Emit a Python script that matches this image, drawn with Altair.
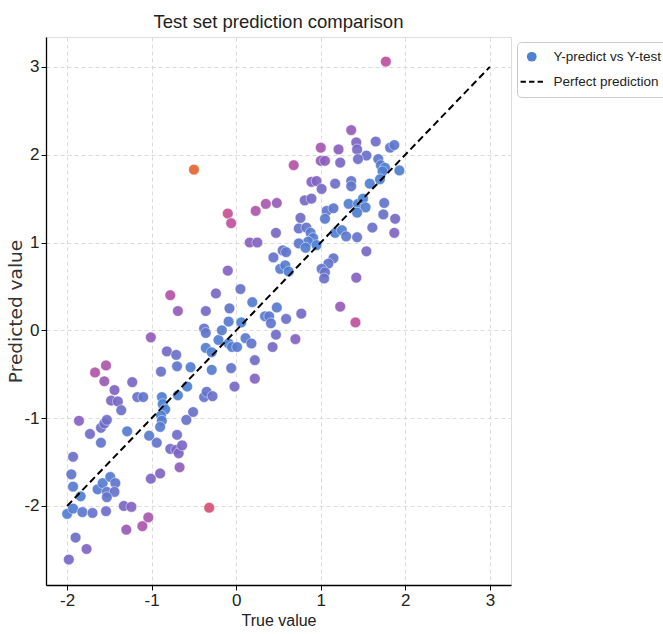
import altair as alt
import pandas as pd

# True values (x) and predicted values (y)
true_vals = [
    -1.98, -1.90, -1.77, -2.00, -1.93, -1.82, -1.70, -1.54, -1.84, -1.93,
    -1.95, -1.93, -1.64, -1.58, -1.53, -1.49, -1.43, -1.44, -1.53, -1.33,
    -1.24, -1.30, -1.11, -1.04, -1.01, -0.90, -1.86, -1.73, -1.60, -1.56,
    -1.53, -1.60, -1.29, -1.67, -1.54, -1.56, -1.44, -1.48, -1.40, -1.36,
    -1.23, -1.17, -1.10, -1.01, -1.03, -0.94, -0.78, -0.71, -0.68, -0.67,
    -0.70, -0.64, -0.32, -0.89, -0.88, -0.87, -0.84, -0.89, -0.88, -0.90,
    -0.82, -0.71, -0.70, -0.54, -0.58, -0.69, -0.38, -0.35, -0.28, -0.51,
    -0.59, -0.29, -0.06, -0.02, 0.22, 0.22, -0.36, -0.29, -0.21, -0.09,
    -0.05, 0.01, 0.11, 0.18, -0.38, -0.36, -0.17, -0.09, 0.06, -0.69,
    -0.78, -0.36, -0.24, -0.08, -0.10, 0.05, 0.19, 0.34, 0.39, 0.41,
    0.47, 0.43, 0.48, 0.59, 0.77, 0.70, 1.23, 1.41, -0.10, -0.06,
    -0.50, 0.23, 0.16, 0.25, 0.35, 0.48, 0.68, 0.47, 0.55, 0.59,
    0.44, 0.52, 0.58, 0.62, 0.74, 0.83, 0.88, 0.91, 0.85, 0.74,
    0.82, 0.95, 0.76, 0.81, 0.89, 0.89, 0.95, 1.01, 1.00, 1.00,
    1.05, 1.21, 1.23, 1.36, 1.42, 1.43, 1.54, 1.44, 1.65, 1.82,
    1.87, 1.68, 1.71, 1.76, 1.73, 1.93, 1.17, 1.36, 1.36, 1.58,
    1.70, 1.07, 1.15, 1.05, 1.33, 1.44, 1.50, 1.53, 1.43, 1.75,
    1.74, 1.88, 1.87, 1.61, 1.54, 1.43, 1.17, 1.25, 1.30, 1.15,
    1.09, 1.01, 1.05, 1.04, 1.42, 1.77,
]
pred_vals = [
    -2.61, -2.36, -2.49, -2.09, -2.03, -2.07, -2.08, -2.06, -1.89, -1.78,
    -1.64, -1.44, -1.81, -1.74, -1.84, -1.67, -1.74, -1.84, -1.90, -2.00,
    -2.01, -2.27, -2.23, -2.13, -1.69, -1.63, -1.03, -1.18, -1.11, -1.06,
    -1.02, -1.28, -1.15, -0.48, -0.40, -0.58, -0.68, -0.80, -0.81, -0.91,
    -0.59, -0.76, -0.76, -0.08, -1.20, -1.28, -1.35, -1.36, -1.40, -1.56,
    -1.19, -1.31, -2.02, -0.47, -0.76, -0.84, -0.90, -0.97, -1.03, -1.10,
    -0.24, -0.28, -0.41, -0.42, -0.64, -0.74, -0.76, -0.70, -0.75, -0.93,
    -1.02, -0.45, -0.43, -0.64, -0.34, -0.55, -0.20, -0.25, -0.11, -0.15,
    -0.19, -0.19, -0.09, -0.15, 0.02, -0.03, 0.00, 0.10, 0.09, 0.22,
    0.40, 0.22, 0.42, 0.25, 0.68, 0.47, 0.32, 0.16, 0.16, 0.08,
    -0.05, -0.19, 0.26, 0.13, 0.19, -0.10, 0.27, 0.09, 1.33, 1.22,
    1.83, 1.36, 1.00, 1.00, 1.44, 1.45, 1.88, 1.11, 0.91, 0.89,
    0.83, 0.70, 0.74, 0.67, 1.16, 1.17, 1.11, 1.05, 1.01, 0.99,
    0.94, 0.97, 1.28, 1.48, 1.50, 1.69, 1.70, 1.61, 2.08, 1.93,
    1.93, 2.06, 1.91, 2.28, 2.14, 2.06, 1.99, 1.95, 2.15, 2.08,
    2.11, 1.95, 1.88, 1.85, 1.81, 1.82, 1.67, 1.70, 1.64, 1.67,
    1.72, 1.36, 1.39, 1.27, 1.44, 1.44, 1.50, 1.40, 1.34, 1.45,
    1.32, 1.27, 1.11, 1.17, 0.90, 1.06, 1.11, 1.14, 1.07, 0.82,
    0.76, 0.70, 0.66, 0.59, 0.60, 3.06,
]

line_x = [-2, 3]
line_y = [-2, 3]

tick_values = [-2, -1, 0, 1, 2, 3]
series_names = ["Y-predict vs Y-test", "Perfect prediction"]

err_stops = [0, 0.8, 1.3, 1.75, 2.35]
err_colors = ["#4a82d3", "#8562c2", "#c0509f", "#dc4f72", "#e2692f"]

df = pd.DataFrame({"true": true_vals, "pred": pred_vals})
df["err"] = (df["pred"] - df["true"]).abs()
df["series"] = series_names[0]

line_df = pd.DataFrame({"x": line_x, "y": line_y})

NARROW = "Liberation Sans, Arial, sans-serif"
WIDE = "DejaVu Sans, sans-serif"

xscale = alt.Scale(domain=[-2.25, 3.25], nice=False, zero=False)
yscale = alt.Scale(domain=[-2.90, 3.34], nice=False, zero=False)

common_axis = dict(
    values=tick_values,
    labelExpr="'' + datum.value",
    grid=True,
    gridDash=[4, 3],
    gridColor="#d2d2d2",
    gridWidth=0.8,
    domainColor="#000000",
    domainWidth=1.3,
    tickColor="#000000",
    tickSize=5,
    tickWidth=1,
    labelFont=NARROW,
    labelFontSize=17,
    labelColor="#222222",
    titleFontWeight="normal",
    titleColor="#222222",
)

legend = alt.Legend(
    title=None,
    orient="none",
    legendX=471,
    legendY=5,
    fillColor="white",
    strokeColor="#cccccc",
    cornerRadius=4,
    padding=8,
    labelFont=NARROW,
    labelFontSize=13.5,
    labelColor="#222222",
    symbolSize=95,
    rowPadding=8,
    labelOffset=15,
    symbolFillColor={"expr": "datum.value === 'Perfect prediction' ? 'transparent' : '#4f82d2'"},
    symbolStrokeColor={"expr": "datum.value === 'Perfect prediction' ? '#000000' : 'transparent'"},
    symbolStrokeWidth=2,
    symbolOpacity=1,
)

points = alt.Chart(df).mark_point(
    filled=True, size=115, opacity=0.92, stroke="white", strokeWidth=0.5
).encode(
    x=alt.X(
        "true:Q",
        scale=xscale,
        axis=alt.Axis(title="True value", titleFont=NARROW, titleFontSize=16, **common_axis),
    ),
    y=alt.Y(
        "pred:Q",
        scale=yscale,
        axis=alt.Axis(
            title="Predicted value", titleFont=WIDE, titleFontSize=18.5, titleColor="#333333",
            titlePadding=-2, **{k: v for k, v in common_axis.items() if k != "titleColor"}
        ),
    ),
    color=alt.Color(
        "err:Q",
        scale=alt.Scale(domain=err_stops, range=err_colors, interpolate="rgb"),
        legend=None,
    ),
    shape=alt.Shape(
        "series:N",
        scale=alt.Scale(
            domain=series_names,
            range=["circle", "M-2.3,0H-1.2M-0.55,0H0.55M1.2,0H2.3"],
        ),
        legend=legend,
    ),
)

diag = alt.Chart(line_df).mark_line(
    color="black", strokeWidth=2, strokeDash=[7, 4]
).encode(
    x=alt.X("x:Q", scale=xscale),
    y=alt.Y("y:Q", scale=yscale),
)

chart = (
    alt.layer(points, diag)
    .properties(
        width=465,
        height=548,
        title=alt.Title(
            "Test set prediction comparison",
            font=NARROW,
            fontSize=18.5,
            fontWeight="normal",
            color="#222222",
            offset=6,
        ),
        autosize=alt.AutoSizeParams(type="none"),
        padding={"left": 46, "top": 37, "right": 152, "bottom": 49},
    )
    .configure_view(strokeWidth=0)
    .configure(background="white")
)

chart.save("out.html", embed_options={"renderer": "svg", "actions": False})
